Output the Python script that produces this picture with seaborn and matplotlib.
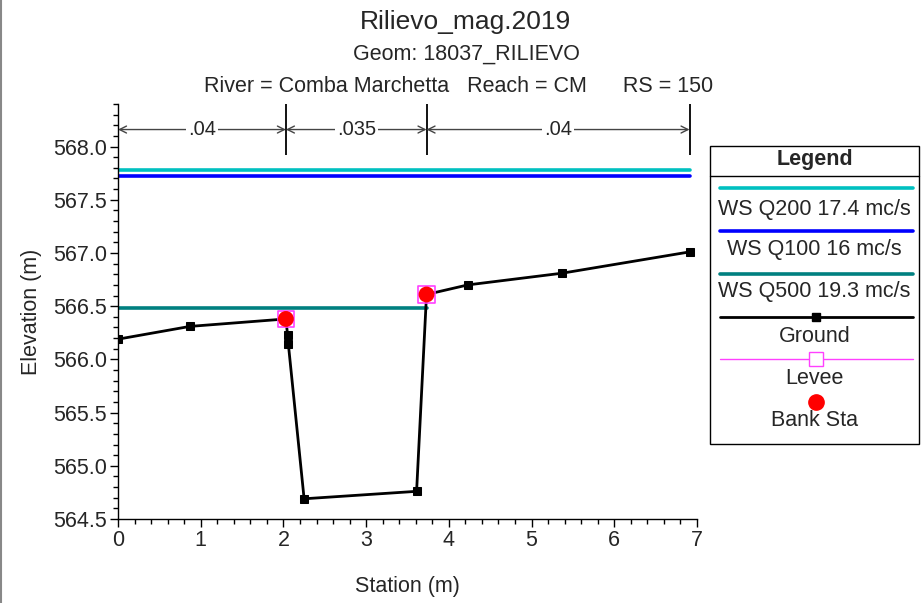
import numpy as np
import pandas as pd
import seaborn as sns
import matplotlib
matplotlib.use("Agg")
import matplotlib.pyplot as plt
from matplotlib.lines import Line2D
from matplotlib.patches import Rectangle
from matplotlib.ticker import MultipleLocator, FormatStrFormatter

# Cross-section survey data
ground_station = [0.0, 0.87, 2.03, 2.05, 2.06, 2.25, 3.61, 3.73, 4.23, 5.37, 6.91]
ground_elev = [566.19, 566.31, 566.38, 566.23, 566.14, 564.69, 564.76, 566.61, 566.70, 566.81, 567.01]

bank_station = [2.03, 3.73]
bank_elev = [566.38, 566.61]
levee_station = [2.03, 3.73]
levee_elev = [566.38, 566.61]

# Water surface profiles: (label, elevation, start station, end station, colour)
ws_labels = ["WS Q200 17.4 mc/s", "WS Q100 16 mc/s", "WS Q500 19.3 mc/s"]
ws_elev = [567.78, 567.72, 566.48]
ws_start = [0.0, 0.0, 0.0]
ws_end = [6.91, 6.91, 3.73]
ws_colors = ["#00C0C0", "#0000FF", "#008080"]

# Manning's n zones
n_bounds = [0.0, 2.03, 3.73, 6.91]
n_values = [".04", ".035", ".04"]

sns.set_style("white")
plt.rcParams["font.family"] = ["Liberation Sans", "DejaVu Sans"]

FS = 15.5
W, H = 921, 603
fig = plt.figure(figsize=(W / 100, H / 100), dpi=100)


def fx(px):
    return px / W


def fy(py):
    return 1 - py / H


ax = fig.add_axes([fx(118), fy(519), fx(697) - fx(118), fy(104) - fy(519)])

# Water surfaces
for lab, el, x0, x1, c in zip(ws_labels, ws_elev, ws_start, ws_end, ws_colors):
    df = pd.DataFrame({"Station": [x0, x1], "Elevation": [el, el]})
    sns.lineplot(data=df, x="Station", y="Elevation", ax=ax, color=c, lw=2.6,
                 estimator=None, sort=False, legend=False, zorder=2)

# Ground profile
gdf = pd.DataFrame({"Station": ground_station, "Elevation": ground_elev})
sns.lineplot(data=gdf, x="Station", y="Elevation", ax=ax, color="black", lw=2,
             marker="s", markersize=6, markeredgecolor="black",
             estimator=None, sort=False, legend=False, zorder=3)

# Levees and bank stations
ldf = pd.DataFrame({"Station": levee_station, "Elevation": levee_elev})
sns.scatterplot(data=ldf, x="Station", y="Elevation", ax=ax, marker="s", s=140,
                facecolor="none", edgecolor="#FF40FF", linewidth=1.2, zorder=4, legend=False)
bdf = pd.DataFrame({"Station": bank_station, "Elevation": bank_elev})
sns.scatterplot(data=bdf, x="Station", y="Elevation", ax=ax, marker="o", s=130,
                color="#FF0000", edgecolor="none", zorder=5, legend=False)

# Manning's n dimension lines
y_arrow = 568.16
ax.vlines(n_bounds, 567.92, 568.40, color="black", lw=1.3, zorder=3)
for (a, b), nv in zip(zip(n_bounds[:-1], n_bounds[1:]), n_values):
    ax.annotate("", xy=(a, y_arrow), xytext=(b, y_arrow),
                arrowprops=dict(arrowstyle="<->,head_length=0.5,head_width=0.25",
                                color="#444444", lw=1.0, shrinkA=0, shrinkB=0))
    ax.text((a + b) / 2, y_arrow, nv, ha="center", va="center", fontsize=14.5,
            bbox=dict(facecolor="white", edgecolor="none", pad=1.5), zorder=6)

ax.set_xlim(0, 7)
ax.set_ylim(564.5, 568.4)
ax.xaxis.set_major_locator(MultipleLocator(1))
ax.xaxis.set_minor_locator(MultipleLocator(0.2))
ax.set_yticks(np.arange(564.5, 568.01, 0.5))
ax.yaxis.set_minor_locator(MultipleLocator(0.1))
ax.yaxis.set_major_formatter(FormatStrFormatter("%.1f"))
ax.tick_params(axis="both", which="major", direction="out", length=6, width=1,
               labelsize=FS, color="black", left=True, bottom=True, pad=2)
ax.tick_params(axis="both", which="minor", direction="out", length=3.5, width=1,
               color="black", left=True, bottom=True)
for s in ["top", "right"]:
    ax.spines[s].set_visible(False)
for s in ["left", "bottom"]:
    ax.spines[s].set_color("black")
    ax.spines[s].set_linewidth(1)
ax.set_xlabel("Station (m)", fontsize=FS, labelpad=18)
ax.set_ylabel("Elevation (m)", fontsize=FS, labelpad=8)

# Titles
fig.text(fx(465), fy(22), "Rilievo_mag.2019", ha="center", va="center", fontsize=19)
fig.text(fx(466), fy(54), "Geom: 18037_RILIEVO", ha="center", va="center", fontsize=FS)
fig.text(fx(459), fy(86), "River = Comba Marchetta   Reach = CM      RS = 150",
         ha="center", va="center", fontsize=FS)

# Legend panel
bx0, bx1, by0, by1 = 710, 919, 146, 444
fig.add_artist(Rectangle((fx(bx0), fy(by1)), fx(bx1) - fx(bx0), fy(by0) - fy(by1),
                         transform=fig.transFigure, facecolor="white",
                         edgecolor="black", lw=1))
fig.add_artist(Line2D([fx(bx0), fx(bx1)], [fy(176), fy(176)], transform=fig.transFigure,
                      color="black", lw=1))
cx = (bx0 + bx1) / 2
fig.text(fx(cx), fy(159), "Legend", ha="center", va="center", fontsize=FS, fontweight="bold")
lx0, lx1 = 720, 913
ws_line_y = [188, 231, 274]
ws_text_y = [210, 249, 292]
for lab, c, ly, ty in zip(ws_labels, ws_colors, ws_line_y, ws_text_y):
    fig.add_artist(Line2D([fx(lx0), fx(lx1)], [fy(ly), fy(ly)], transform=fig.transFigure,
                          color=c, lw=2.6))
    fig.text(fx(cx), fy(ty), lab, ha="center", va="center", fontsize=FS)
fig.add_artist(Line2D([fx(lx0), fx(lx1)], [fy(317), fy(317)], transform=fig.transFigure,
                      color="black", lw=2))
fig.add_artist(Line2D([fx(816)], [fy(317)], transform=fig.transFigure, marker="s",
                      markersize=6, color="black", lw=0))
fig.text(fx(cx), fy(336), "Ground", ha="center", va="center", fontsize=FS)
fig.add_artist(Line2D([fx(lx0), fx(lx1)], [fy(359), fy(359)], transform=fig.transFigure,
                      color="#FF40FF", lw=1))
fig.add_artist(Line2D([fx(816)], [fy(359)], transform=fig.transFigure, marker="s",
                      markersize=10, markerfacecolor="white", markeredgecolor="#FF40FF",
                      markeredgewidth=1, lw=0))
fig.text(fx(cx), fy(378), "Levee", ha="center", va="center", fontsize=FS)
fig.add_artist(Line2D([fx(816)], [fy(402)], transform=fig.transFigure, marker="o",
                      markersize=11, color="#FF0000", lw=0))
fig.text(fx(cx), fy(420), "Bank Sta", ha="center", va="center", fontsize=FS)

# Left frame edge
fig.add_artist(Line2D([fx(1), fx(1)], [0, 1], transform=fig.transFigure, color="#888888", lw=1.5))

fig.savefig("out.png", dpi=100)
